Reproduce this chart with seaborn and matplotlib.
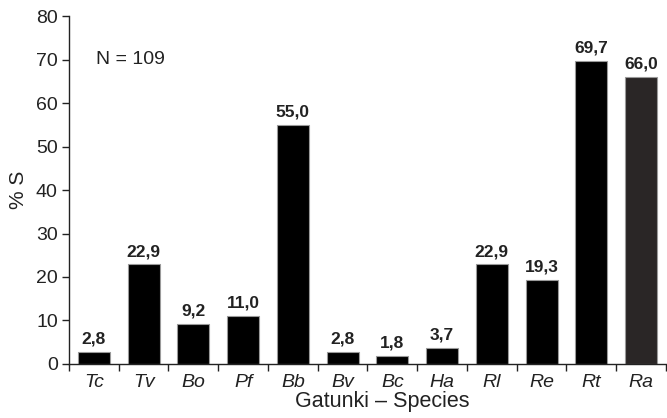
import numpy as np
import pandas as pd
import matplotlib.pyplot as plt
import seaborn as sns

sns.set_theme(style="ticks")
plt.rcParams['font.family'] = ['Liberation Sans', 'DejaVu Sans']

species = ['Tc', 'Tv', 'Bo', 'Pf', 'Bb', 'Bv', 'Bc', 'Ha', 'Rl', 'Re', 'Rt', 'Ra']
values = [2.8, 22.9, 9.2, 11.0, 55.0, 2.8, 1.8, 3.7, 22.9, 19.3, 69.7, 66.0]
bar_colors = ['#000000'] * 11 + ['#2a2626']

df = pd.DataFrame({'Species': species, 'S': values})

fig = plt.figure(figsize=(6.67, 4.18), dpi=100)
ax = fig.add_axes([0.1034, 0.1292, 0.8951, 0.8325])

sns.barplot(data=df, x='Species', y='S', hue='Species', palette=bar_colors,
            legend=False, width=0.64, edgecolor='#9a9a9a', linewidth=0.8,
            saturation=1, ax=ax)

for i, v in enumerate(values):
    ax.text(i, v + 1.2, f'{v:.1f}'.replace('.', ','), ha='center', va='bottom',
            fontsize=12.5, fontweight='bold', color='#222222')

ax.set_xlim(-0.5, 11.5)
ax.set_ylim(0, 80)
ax.set_yticks(range(0, 81, 10))
ax.set_xticks(np.arange(-0.5, 12, 1), minor=True)
ax.tick_params(axis='x', which='major', length=0, pad=7)
ax.tick_params(axis='x', which='minor', length=5, width=1, color='#222222')
ax.tick_params(axis='y', length=5, width=1, color='#222222', pad=3)
for lab in ax.get_xticklabels():
    lab.set_fontstyle('italic')
    lab.set_fontsize(14)
    lab.set_color('#222222')
for lab in ax.get_yticklabels():
    lab.set_fontsize(14)
    lab.set_color('#222222')

ax.set_xlabel('Gatunki – Species', fontsize=15.5, color='#222222')
ax.xaxis.set_label_coords(0.524, -0.078)
ax.set_ylabel('% S', fontsize=15, color='#222222', labelpad=6)
ax.text(0.05, 70, 'N = 109', fontsize=14, color='#222222', va='center')

sns.despine(ax=ax)
for s in ['left', 'bottom']:
    ax.spines[s].set_color('#222222')
    ax.spines[s].set_linewidth(1)

plt.savefig('out.png', dpi=100)
